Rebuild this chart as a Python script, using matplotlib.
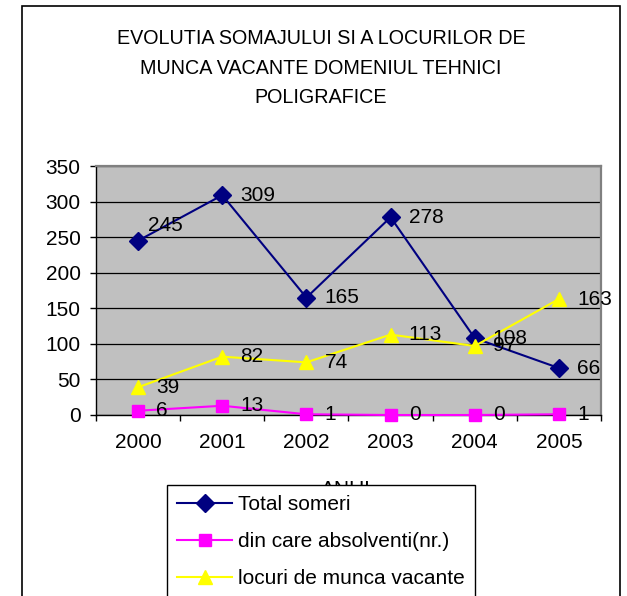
import numpy as np
import matplotlib.pyplot as plt
from matplotlib.patches import Rectangle

plt.rcParams['font.family'] = ['Liberation Sans', 'DejaVu Sans']

years = ['2000', '2001', '2002', '2003', '2004', '2005']
total_someri = [245, 309, 165, 278, 108, 66]
absolventi = [6, 13, 1, 0, 0, 1]
locuri_vacante = [39, 82, 74, 113, 97, 163]

title = 'EVOLUTIA SOMAJULUI SI A LOCURILOR DE\nMUNCA VACANTE DOMENIUL TEHNICI\nPOLIGRAFICE'

fig = plt.figure(figsize=(6.27, 5.96), dpi=100)
ax = fig.add_axes([96 / 627, 1 - 415 / 596, 505 / 627, 249 / 596])
ax.set_facecolor('#C0C0C0')

x = np.arange(len(years))
series = [
    (total_someri, 'Total someri', '#000080', 'D', 9),
    (absolventi, 'din care absolventi(nr.)', '#FF00FF', 's', 9),
    (locuri_vacante, 'locuri de munca vacante', '#FFFF00', '^', 10),
]
for vals, name, col, mk, ms in series:
    ax.plot(x, vals, color=col, marker=mk, markersize=ms, lw=1.5,
            label=name, clip_on=False, zorder=3)

# data labels, right of the point (245 sits a bit higher in the original)
for vals, name, col, mk, ms in series:
    for xi, v in zip(x, vals):
        off = (7, 11) if (name == 'Total someri' and xi == 0) else (13, 0)
        ax.annotate(str(v), (xi, v), xytext=off, textcoords='offset points',
                    ha='left', va='center', fontsize=15, zorder=4,
                    annotation_clip=False)

ax.set_xlim(-0.5, 5.5)
ax.set_ylim(0, 350)
ax.set_yticks(range(0, 351, 50))
ax.yaxis.grid(True, color='black', lw=0.9)
ax.set_axisbelow(True)

ax.set_xticks(x)
ax.set_xticklabels(years)
ax.set_xticks(np.arange(-0.5, 6, 1), minor=True)
ax.tick_params(axis='x', which='major', length=0, pad=13, labelsize=15)
ax.tick_params(axis='x', which='minor', length=4, width=1, direction='out')
ax.tick_params(axis='y', length=4, width=1, pad=7, labelsize=15)

for s in ['top', 'right']:
    ax.spines[s].set_color('#808080')
    ax.spines[s].set_linewidth(1.6)
for s in ['left', 'bottom']:
    ax.spines[s].set_color('black')
    ax.spines[s].set_linewidth(1)

ax.set_xlabel('ANUL', fontsize=15, labelpad=20)

fig.text(321 / 627, 1 - 29 / 596, title, ha='center', va='top',
         fontsize=14.2, linespacing=1.7, transform=fig.transFigure)

fig.patches.append(Rectangle((22 / 627, -0.1), 598 / 627, 1.1 - 6 / 596,
                             transform=fig.transFigure, fill=False,
                             edgecolor='black', lw=1.2))

leg = fig.legend(loc='upper left', bbox_to_anchor=(167 / 627, 1 - 485 / 596),
                 borderaxespad=0, fontsize=15, frameon=True, fancybox=False,
                 edgecolor='black', framealpha=1, handlelength=2.6,
                 handletextpad=0.3, labelspacing=0.85, borderpad=0.5)
leg.get_frame().set_linewidth(1)

fig.savefig('out.png', dpi=100)
